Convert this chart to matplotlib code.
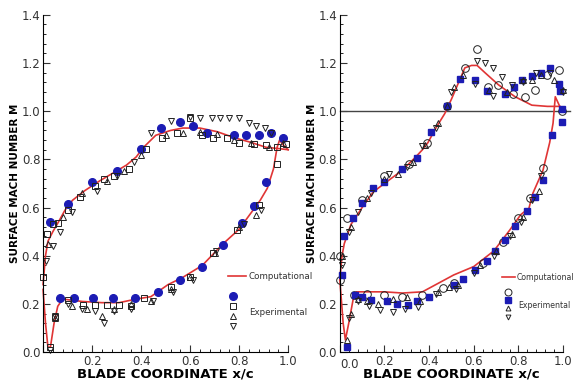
import matplotlib.pyplot as plt
from matplotlib.ticker import MultipleLocator

# ---- left panel: computational curves
L_cfd_ss_x = [0.0, 0.01, 0.02, 0.04, 0.06, 0.09, 0.12, 0.17, 0.23, 0.28, 0.34, 0.38, 0.41, 0.46, 0.52, 0.57, 0.64, 0.71, 0.78, 0.85, 0.91, 0.96, 1.0]
L_cfd_ss_m = [0.28, 0.40, 0.46, 0.50, 0.535, 0.59, 0.63, 0.67, 0.71, 0.74, 0.776, 0.81, 0.85, 0.90, 0.92, 0.93, 0.93, 0.915, 0.89, 0.87, 0.85, 0.845, 0.84]
L_cfd_ps_x = [0.0, 0.01, 0.02, 0.03, 0.045, 0.06, 0.08, 0.12, 0.16, 0.24, 0.31, 0.38, 0.44, 0.51, 0.57, 0.65, 0.735, 0.80, 0.886, 0.915, 0.94, 0.955, 0.965, 0.98, 1.0]
L_cfd_ps_m = [0.26, 0.12, 0.02, 0.02, 0.12, 0.19, 0.22, 0.215, 0.21, 0.205, 0.205, 0.22, 0.23, 0.28, 0.31, 0.36, 0.45, 0.51, 0.63, 0.68, 0.76, 0.85, 0.88, 0.86, 0.84]

# ---- left panel: experimental sets
L_circ_x = [0.03, 0.10, 0.20, 0.30, 0.40, 0.48, 0.56, 0.61, 0.67, 0.78, 0.83, 0.88, 0.93, 0.98,
            0.07, 0.127, 0.205, 0.285, 0.375, 0.47, 0.56, 0.65, 0.735, 0.81, 0.86, 0.91]
L_circ_m = [0.54, 0.615, 0.705, 0.75, 0.845, 0.93, 0.955, 0.94, 0.91, 0.90, 0.90, 0.90, 0.91, 0.89,
            0.225, 0.225, 0.225, 0.225, 0.225, 0.25, 0.30, 0.355, 0.445, 0.535, 0.605, 0.705]
L_sq_x = [0.0, 0.015, 0.04, 0.06, 0.10, 0.15, 0.21, 0.25, 0.29, 0.35, 0.42, 0.485, 0.545, 0.60, 0.65, 0.695, 0.75, 0.80, 0.86, 0.91, 0.955, 0.99,
          0.03, 0.05, 0.10, 0.165, 0.21, 0.26, 0.31, 0.36, 0.41, 0.52, 0.60, 0.695, 0.79, 0.88, 0.955]
L_sq_m = [0.31, 0.49, 0.53, 0.535, 0.59, 0.645, 0.69, 0.72, 0.73, 0.76, 0.845, 0.89, 0.91, 0.97, 0.90, 0.89, 0.89, 0.87, 0.865, 0.86, 0.85, 0.865,
          0.02, 0.145, 0.215, 0.195, 0.195, 0.195, 0.195, 0.19, 0.225, 0.27, 0.31, 0.41, 0.505, 0.61, 0.78]
L_tri_x = [0.02, 0.08, 0.16, 0.26, 0.33, 0.40, 0.50, 0.57, 0.64, 0.71, 0.78, 0.85, 0.92, 0.98,
           0.05, 0.12, 0.18, 0.24, 0.29, 0.36, 0.44, 0.52, 0.60, 0.70, 0.80, 0.87]
L_tri_m = [0.45, 0.56, 0.66, 0.71, 0.75, 0.82, 0.90, 0.91, 0.915, 0.905, 0.88, 0.87, 0.85, 0.87,
           0.14, 0.19, 0.18, 0.15, 0.18, 0.20, 0.21, 0.26, 0.31, 0.41, 0.52, 0.57]
L_dtri_x = [0.01, 0.04, 0.07, 0.12, 0.22, 0.30, 0.37, 0.44, 0.52, 0.60, 0.64, 0.69, 0.72, 0.76, 0.80, 0.84, 0.87, 0.905, 0.93,
            0.03, 0.05, 0.10, 0.16, 0.21, 0.25, 0.29, 0.36, 0.45, 0.53, 0.61, 0.705, 0.82, 0.89]
L_dtri_m = [0.38, 0.44, 0.50, 0.58, 0.67, 0.73, 0.79, 0.91, 0.96, 0.975, 0.97, 0.97, 0.97, 0.97, 0.97, 0.95, 0.94, 0.93, 0.91,
            0.01, 0.15, 0.20, 0.18, 0.17, 0.12, 0.17, 0.18, 0.21, 0.25, 0.30, 0.42, 0.53, 0.59]

# ---- right panel: computational curves
R_cfd_ss_x = [0.0, 0.01, 0.02, 0.05, 0.10, 0.15, 0.2, 0.28, 0.34, 0.37, 0.395, 0.43, 0.47, 0.50, 0.53, 0.56, 0.59, 0.615, 0.65, 0.71, 0.785, 0.86, 0.93, 0.985]
R_cfd_ss_m = [0.30, 0.40, 0.45, 0.53, 0.60, 0.665, 0.70, 0.755, 0.81, 0.84, 0.87, 0.93, 0.99, 1.05, 1.115, 1.18, 1.19, 1.19, 1.16, 1.11, 1.06, 1.025, 1.02, 1.02]
R_cfd_ps_x = [0.0, 0.015, 0.025, 0.04, 0.06, 0.075, 0.125, 0.2, 0.28, 0.37, 0.44, 0.51, 0.60, 0.69, 0.76, 0.81, 0.83, 0.845, 0.865, 0.91, 0.94, 0.955, 0.965, 0.975, 0.985]
R_cfd_ps_m = [0.30, 0.12, 0.05, 0.12, 0.22, 0.25, 0.25, 0.25, 0.245, 0.25, 0.285, 0.32, 0.355, 0.42, 0.505, 0.57, 0.585, 0.59, 0.66, 0.755, 0.87, 0.95, 1.06, 1.04, 1.02]

# ---- right panel: experimental sets
R_circ_x = [0.0, 0.03, 0.10, 0.20, 0.31, 0.39, 0.48, 0.56, 0.615, 0.665, 0.71, 0.775, 0.83, 0.875, 0.93, 0.98, 0.995,
            0.0, 0.065, 0.12, 0.20, 0.28, 0.37, 0.46, 0.51, 0.64, 0.73, 0.80, 0.85, 0.91]
R_circ_m = [0.40, 0.555, 0.63, 0.73, 0.78, 0.87, 1.02, 1.18, 1.26, 1.10, 1.11, 1.07, 1.06, 1.09, 1.15, 1.17, 1.00,
            0.30, 0.235, 0.24, 0.235, 0.23, 0.235, 0.265, 0.285, 0.37, 0.455, 0.555, 0.64, 0.765]
R_sq_x = [0.02, 0.06, 0.10, 0.15, 0.20, 0.28, 0.345, 0.41, 0.48, 0.54, 0.605, 0.66, 0.74, 0.78, 0.815, 0.86, 0.90, 0.94, 0.98, 0.985, 0.995,
          0.01, 0.03, 0.067, 0.10, 0.14, 0.21, 0.255, 0.305, 0.345, 0.40, 0.51, 0.55, 0.605, 0.66, 0.695, 0.74, 0.785, 0.84, 0.875, 0.91, 0.95, 0.995]
R_sq_m = [0.48, 0.555, 0.62, 0.68, 0.705, 0.76, 0.805, 0.915, 1.02, 1.135, 1.13, 1.085, 1.07, 1.10, 1.13, 1.145, 1.16, 1.18, 1.115, 1.085, 1.01,
          0.32, 0.02, 0.235, 0.23, 0.215, 0.21, 0.20, 0.195, 0.21, 0.23, 0.28, 0.305, 0.34, 0.38, 0.42, 0.465, 0.525, 0.585, 0.645, 0.715, 0.90, 0.955]
R_tri_x = [0.01, 0.05, 0.12, 0.20, 0.26, 0.33, 0.38, 0.44, 0.48, 0.51, 0.55, 0.67, 0.75, 0.82, 0.86, 0.90, 0.96, 1.0,
           0.03, 0.05, 0.08, 0.12, 0.17, 0.24, 0.30, 0.36, 0.44, 0.49, 0.53, 0.63, 0.70, 0.77, 0.82, 0.89]
R_tri_m = [0.40, 0.52, 0.64, 0.72, 0.74, 0.79, 0.86, 0.95, 1.02, 1.10, 1.15, 1.09, 1.08, 1.13, 1.13, 1.15, 1.13, 1.09,
           0.05, 0.16, 0.22, 0.21, 0.20, 0.22, 0.23, 0.21, 0.25, 0.27, 0.28, 0.36, 0.42, 0.49, 0.56, 0.67]
R_dtri_x = [0.01, 0.04, 0.08, 0.14, 0.22, 0.30, 0.37, 0.43, 0.50, 0.605, 0.615, 0.65, 0.685, 0.685, 0.725, 0.77, 0.82, 0.88, 0.94, 1.0,
            0.04, 0.08, 0.13, 0.18, 0.24, 0.29, 0.35, 0.43, 0.52, 0.60, 0.69, 0.76, 0.81, 0.86, 0.90]
R_dtri_m = [0.36, 0.50, 0.58, 0.66, 0.74, 0.77, 0.855, 0.93, 1.08, 1.115, 1.21, 1.20, 1.18, 1.065, 1.14, 1.11, 1.12, 1.16, 1.16, 1.08,
            0.14, 0.21, 0.19, 0.175, 0.165, 0.18, 0.185, 0.24, 0.26, 0.33, 0.40, 0.48, 0.54, 0.63, 0.73]

RED = '#e03535'
BLUE = '#1c1cb4'

fig = plt.figure(figsize=(5.74, 3.81), dpi=100)
axL = fig.add_axes([0.075, 0.076, 0.427, 0.885])
axR = fig.add_axes([0.592, 0.076, 0.389, 0.885])


def style_axis(ax):
    ax.set_xlim(0, 1.0)
    ax.set_ylim(0, 1.4)
    ax.spines['top'].set_visible(False)
    ax.spines['right'].set_visible(False)
    ax.xaxis.set_major_locator(MultipleLocator(0.2))
    ax.xaxis.set_minor_locator(MultipleLocator(0.04))
    ax.yaxis.set_major_locator(MultipleLocator(0.2))
    ax.yaxis.set_minor_locator(MultipleLocator(0.04))
    ax.tick_params(which='major', direction='in', length=5, labelsize=8.5, colors='#333333', pad=2)
    ax.tick_params(which='minor', direction='in', length=2.5)
    # no 0.0 under the x axis from the formatter (it would collide with the y 0.0)
    ax.xaxis.set_major_formatter(plt.FuncFormatter(
        lambda v, p: '' if abs(v) < 1e-9 else f'{v:.1f}'))
    ax.yaxis.set_major_formatter(plt.FuncFormatter(lambda v, p: f'{v:.1f}'))
    ax.set_xlabel('BLADE COORDINATE x/c', fontsize=9.5, fontweight='bold', labelpad=0)
    ax.set_ylabel('SURFACE MACH NUMBER M', fontsize=7.5, fontweight='bold', labelpad=1)


ms_open = dict(mfc='none', mec='#222222', mew=0.7, ls='none')

# left panel
style_axis(axL)
axL.plot(L_cfd_ss_x, L_cfd_ss_m, color=RED, lw=1.2, clip_on=False)
axL.plot(L_cfd_ps_x, L_cfd_ps_m, color=RED, lw=1.2, clip_on=False)
axL.plot(L_circ_x, L_circ_m, 'o', color=BLUE, ms=5.5, ls='none', clip_on=False)
axL.plot(L_sq_x, L_sq_m, 's', ms=4.5, clip_on=False, **ms_open)
axL.plot(L_tri_x, L_tri_m, '^', ms=4.5, clip_on=False, **ms_open)
axL.plot(L_dtri_x, L_dtri_m, 'v', ms=4.5, clip_on=False, **ms_open)

# left legend, drawn by hand like the original
axL.plot([0.755, 0.83], [0.315, 0.315], color=RED, lw=1.2)
axL.text(0.84, 0.315, 'Computational', fontsize=6.3, va='center', color='#333333', clip_on=False)
axL.plot([0.775], [0.232], 'o', color=BLUE, ms=5.5)
axL.plot([0.775], [0.19], 's', ms=4.5, **ms_open)
axL.plot([0.775], [0.149], '^', ms=4.5, **ms_open)
axL.plot([0.775], [0.108], 'v', ms=4.5, **ms_open)
axL.text(0.84, 0.166, 'Experimental', fontsize=6.3, va='center', color='#333333', clip_on=False)

# right panel
style_axis(axR)
axR.annotate('0.0', xy=(0, 0), xycoords='data', xytext=(0, -4.5), textcoords='offset points',
             ha='left', va='top', fontsize=8.5, color='#333333')
axR.plot([0, 1.03], [1.0, 1.0], color='#444444', lw=1.0, clip_on=False)
axR.plot(R_cfd_ss_x, R_cfd_ss_m, color=RED, lw=1.2, clip_on=False)
axR.plot(R_cfd_ps_x, R_cfd_ps_m, color=RED, lw=1.2, clip_on=False)
axR.plot(R_circ_x, R_circ_m, 'o', ms=5.5, clip_on=False, **ms_open)
axR.plot(R_sq_x, R_sq_m, 's', color=BLUE, ms=4.5, ls='none', clip_on=False)
axR.plot(R_tri_x, R_tri_m, '^', ms=4, clip_on=False, **ms_open)
axR.plot(R_dtri_x, R_dtri_m, 'v', ms=4, clip_on=False, **ms_open)

axR.plot([0.726, 0.785], [0.311, 0.311], color=RED, lw=1.2)
axR.text(0.79, 0.311, 'Computational', fontsize=5.6, va='center', color='#333333', clip_on=False)
axR.plot([0.753], [0.249], 'o', ms=5, **ms_open)
axR.plot([0.753], [0.216], 's', color=BLUE, ms=4)
axR.plot([0.753], [0.183], '^', ms=3.5, **ms_open)
axR.plot([0.753], [0.145], 'v', ms=3.5, **ms_open)
axR.text(0.80, 0.195, 'Experimental', fontsize=5.6, va='center', color='#333333', clip_on=False)

fig.savefig('out.png', dpi=100)
